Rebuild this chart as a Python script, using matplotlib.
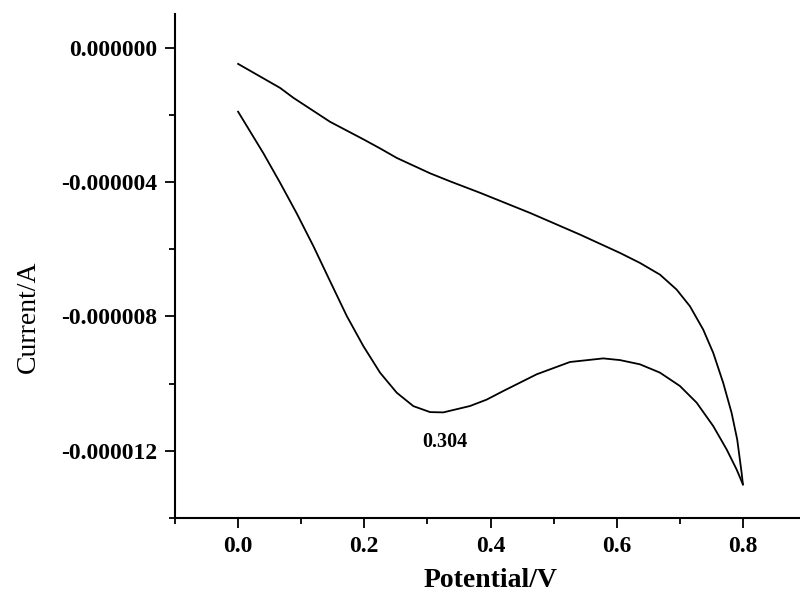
import matplotlib
matplotlib.use("Agg")
import matplotlib.pyplot as plt
from matplotlib.ticker import MultipleLocator, FormatStrFormatter

plt.rcParams["axes.unicode_minus"] = False

# Cyclic voltammogram: upper (return) branch and lower (forward) branch
upper_potential = [0.000, 0.0665, 0.0876, 0.1457, 0.1985, 0.2250, 0.2514, 0.3042,
                   0.3358, 0.3834, 0.4626, 0.5418, 0.6051, 0.6368, 0.6685, 0.6950,
                   0.7161, 0.7371, 0.7530, 0.7688, 0.7821, 0.7910, 0.7980, 0.800]
upper_current_uA = [-0.485, -1.199, -1.494, -2.208, -2.729, -3.000, -3.283, -3.741,
                    -3.979, -4.321, -4.920, -5.565, -6.110, -6.408, -6.756, -7.202,
                    -7.699, -8.393, -9.086, -9.979, -10.872, -11.667, -12.658, -13.00]

lower_potential = [0.000, 0.0401, 0.0665, 0.0930, 0.1193, 0.1457, 0.1722, 0.1985,
                   0.2250, 0.2514, 0.2777, 0.3042, 0.3252, 0.3675, 0.3940, 0.4203,
                   0.4732, 0.5259, 0.5787, 0.6051, 0.6368, 0.6685, 0.7002, 0.7267,
                   0.7530, 0.7742, 0.7900, 0.800]
lower_current_uA = [-1.908, -3.145, -4.021, -4.938, -5.908, -6.950, -7.988, -8.884,
                    -9.676, -10.271, -10.670, -10.848, -10.857, -10.667, -10.476, -10.220,
                    -9.723, -9.357, -9.250, -9.300, -9.426, -9.673, -10.072, -10.568,
                    -11.265, -11.958, -12.554, -13.00]

peak_label = "0.304"
peak_label_pos = (0.328, -11.75)  # (V, µA)

upper_current = [v * 1e-6 for v in upper_current_uA]
lower_current = [v * 1e-6 for v in lower_current_uA]

serif = ["Liberation Serif", "DejaVu Serif"]

fig = plt.figure(figsize=(8.0, 6.05), dpi=100)
ax = fig.add_axes([175 / 800, 87 / 605, 631 / 800, 504 / 605])

ax.plot(upper_potential, upper_current, color="black", lw=1.3)
ax.plot(lower_potential, lower_current, color="black", lw=1.3)

ax.text(peak_label_pos[0], peak_label_pos[1] * 1e-6, peak_label,
        family=serif, fontweight="bold", fontsize=14.5, ha="center", va="center")

ax.set_xlim(-0.1, 0.9)
ax.set_ylim(-14e-6, 1e-6)

ax.xaxis.set_major_locator(MultipleLocator(0.2))
ax.xaxis.set_minor_locator(MultipleLocator(0.1))
ax.yaxis.set_major_locator(MultipleLocator(4e-6))
ax.yaxis.set_minor_locator(MultipleLocator(2e-6))
ax.xaxis.set_major_formatter(FormatStrFormatter("%.1f"))
ax.yaxis.set_major_formatter(FormatStrFormatter("%.6f"))

for s in ("top", "right"):
    ax.spines[s].set_visible(False)
for s in ("left", "bottom"):
    ax.spines[s].set_linewidth(1.5)

ax.tick_params(which="major", direction="out", length=7, width=1.3, pad=6)
ax.tick_params(which="minor", direction="out", length=4, width=1.3)
for lab in ax.get_xticklabels() + ax.get_yticklabels():
    lab.set_fontfamily(serif)
    lab.set_fontweight("bold")
    lab.set_fontsize(17)

ax.set_xlabel("Potential/V", family=serif, fontweight="bold", fontsize=20)
ax.set_ylabel("Current/A", family=serif, fontsize=20)
ax.xaxis.set_label_coords(0.5, -0.099)
ax.yaxis.set_label_coords(-0.212, 0.40)

fig.savefig("out.png", dpi=100)
